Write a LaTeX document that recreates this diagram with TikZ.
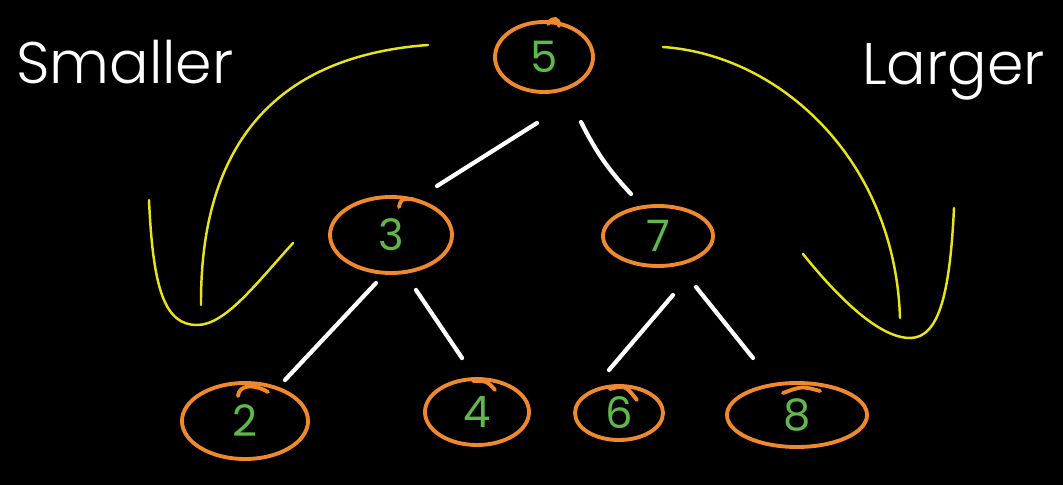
\documentclass[tikz,border=0pt]{standalone}
\usepackage{fontspec}
\setmainfont{Poppins}
\newfontfamily\labelfont{Poppins Light}
\usetikzlibrary{shapes.geometric,calc}
\definecolor{ringorange}{RGB}{240,136,46}
\definecolor{keygreen}{RGB}{94,184,74}
\definecolor{hintyellow}{RGB}{232,228,24}
\tikzset{
  keynode/.style={ellipse, draw=ringorange, line width=3.3pt, inner sep=0pt,
    text=keygreen, font=\fontsize{37}{37}\selectfont},
  tail/.style={draw=ringorange, line width=3.3pt, line cap=round},
  edge/.style={draw=white, line width=3.6pt, line cap=round},
  hint/.style={draw=hintyellow, line width=2.1pt, line cap=round},
  label/.style={text=white, anchor=base west, inner sep=0pt,
    font=\labelfont\fontsize{50}{50}\selectfont}
}
\begin{document}
\begin{tikzpicture}[x=0.03cm, y=-0.03cm]
  \fill[black] (0,0) rectangle (1063,485);
  \useasboundingbox (0,0) rectangle (1063,485);

  % keys of the search tree
  \node[keynode, minimum width=2.94cm, minimum height=2.1cm]  (n5) at (544,57)  {5};
  \node[keynode, minimum width=3.66cm, minimum height=2.28cm] (n3) at (391,235) {3};
  \node[keynode, minimum width=3.3cm,  minimum height=1.8cm]  (n7) at (658,236) {7};
  \node[keynode, minimum width=3.78cm, minimum height=2.28cm] (n2) at (245,421) {2};
  \node[keynode, minimum width=3.12cm, minimum height=1.98cm] (n4) at (477,412) {4};
  \node[keynode, minimum width=2.64cm, minimum height=1.62cm] (n6) at (619,413) {6};
  \node[keynode, minimum width=4.2cm,  minimum height=1.92cm] (n8) at (797,415) {8};

  % pen overlaps where each ring was closed
  \draw[tail] ($(n5)+(4,-33)$) .. controls ($(n5)+(8,-41)$) and ($(n5)+(16,-39)$) .. ($(n5)+(15,-31)$);
  \draw[tail] ($(n3)+(8,-28)$) .. controls ($(n3)+(10,-36)$) .. ($(n3)+(22,-36)$);
  \draw[tail] ($(n2)+(-7,-25)$) .. controls ($(n2)+(-6,-37)$) and ($(n2)+(10,-37)$) .. ($(n2)+(23,-29)$);
  \draw[tail] ($(n4)+(-4,-31)$) .. controls ($(n4)+(10,-31)$) .. ($(n4)+(18,-22)$);
  \draw[tail] ($(n6)+(-9,-24)$) .. controls ($(n6)+(6,-28)$) .. ($(n6)+(18,-13)$);
  \draw[tail] ($(n8)+(-14,-22)$) .. controls ($(n8)+(5,-29)$) .. ($(n8)+(23,-24)$);

  % parent-child links
  \draw[edge] ($(n5)+(-7,66)$) -- ($(n3)+(46,-49)$);
  \draw[edge] ($(n5)+(37,65)$) to[bend right=8] ($(n7)+(-27,-42)$);
  \draw[edge] ($(n3)+(-15,48)$) -- ($(n2)+(40,-41)$);
  \draw[edge] ($(n3)+(25,55)$) -- ($(n4)+(-15,-54)$);
  \draw[edge] ($(n7)+(15,59)$) -- ($(n6)+(-10,-43)$);
  \draw[edge] ($(n7)+(38,51)$) -- ($(n8)+(-44,-57)$);

  % side labels
  \node[label] (small) at (16,84) {Smaller};
  \node[label] (large) at (862,85) {Larger};

  % left sweep and check mark
  \draw[hint] (428,45) .. controls (290,55) and (200,130) .. (201,305);
  \draw[hint] (149,200) .. controls (153,290) and (165,325) .. (197,325)
              .. controls (225,325) and (255,285) .. (293,243);

  % right sweep and check mark
  \draw[hint] (663,47) .. controls (780,55) and (895,160) .. (900,318);
  \draw[hint] (803,254) .. controls (840,300) and (880,338) .. (910,338)
              .. controls (940,338) and (950,290) .. (954,208);
\end{tikzpicture}
\end{document}
